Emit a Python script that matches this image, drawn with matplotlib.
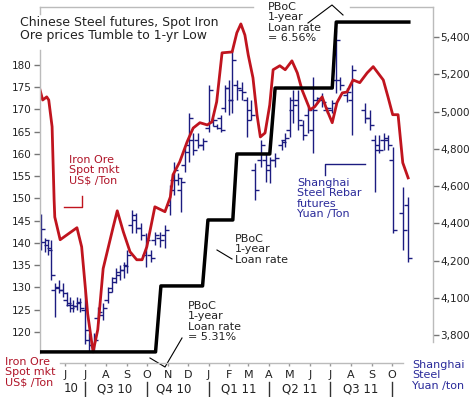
import pandas as pd
import matplotlib
matplotlib.use("Agg")
import matplotlib.pyplot as plt
from matplotlib.lines import Line2D
from matplotlib.transforms import blended_transform_factory

# iron ore spot price, US$/ton (left axis)
ore_dates = ["2010-04-25", "2010-04-29", "2010-05-05", "2010-05-08", "2010-05-13", "2010-05-16",
             "2010-05-17", "2010-05-25", "2010-06-06", "2010-06-19", "2010-06-26", "2010-07-05",
             "2010-07-13", "2010-07-20", "2010-07-28", "2010-08-12", "2010-08-18", "2010-08-27",
             "2010-09-06", "2010-09-16", "2010-09-24", "2010-10-01", "2010-10-13", "2010-10-28",
             "2010-11-05", "2010-11-09", "2010-11-19", "2010-11-30", "2010-12-09", "2010-12-19",
             "2010-12-30", "2011-01-06", "2011-01-13", "2011-01-21", "2011-02-05", "2011-02-12",
             "2011-02-18", "2011-02-24", "2011-03-01", "2011-03-08", "2011-03-14", "2011-03-19",
             "2011-03-26", "2011-04-02", "2011-04-07", "2011-04-17", "2011-04-25", "2011-05-05",
             "2011-05-13", "2011-05-20", "2011-06-01", "2011-06-08", "2011-06-19", "2011-06-26",
             "2011-07-04", "2011-07-11", "2011-07-19", "2011-07-26", "2011-08-04", "2011-08-14",
             "2011-08-25", "2011-09-03", "2011-09-18", "2011-09-25", "2011-10-02", "2011-10-10",
             "2011-10-17", "2011-10-25"]
ore_price = [174.4, 172.1, 172.8, 172.1, 166.1, 149.7,
             145.8, 140.7, 142.0, 143.4, 139.1, 124.0,
             115.5, 120.5, 134.2, 143.6, 147.2, 142.5,
             138.0, 136.2, 136.2, 139.1, 148.1, 147.0,
             150.3, 155.3, 158.2, 162.7, 165.8, 167.0,
             166.5, 167.2, 171.7, 182.7, 182.9, 187.2,
             189.2, 186.7, 182.2, 177.1, 168.8, 163.8,
             164.7, 171.0, 178.9, 179.8, 178.9, 180.9,
             178.2, 174.4, 169.9, 170.6, 172.8, 169.9,
             167.0, 171.5, 173.7, 173.9, 176.6, 176.0,
             178.2, 179.6, 176.6, 172.8, 168.8, 168.8,
             158.0, 154.6]

# Shanghai rebar futures, weekly bars, Yuan/ton (right axis)
rebar_dates = ["2010-04-27", "2010-05-02", "2010-05-07", "2010-05-11", "2010-05-17", "2010-05-23", "2010-05-29", "2010-06-04", "2010-06-08", "2010-06-13",
               "2010-06-19", "2010-06-24", "2010-07-01", "2010-07-07", "2010-07-14", "2010-07-20", "2010-07-28", "2010-08-04", "2010-08-10", "2010-08-16",
               "2010-08-22", "2010-08-28", "2010-09-02", "2010-09-09", "2010-09-15", "2010-09-22", "2010-09-30", "2010-10-07", "2010-10-13", "2010-10-21",
               "2010-10-28", "2010-11-05", "2010-11-10", "2010-11-16", "2010-11-21", "2010-11-27", "2010-12-03", "2010-12-09", "2010-12-16", "2010-12-24",
               "2011-01-02", "2011-01-08", "2011-01-14", "2011-01-20", "2011-01-26", "2011-01-31", "2011-02-05", "2011-02-12", "2011-02-20", "2011-02-27",
               "2011-03-05", "2011-03-11", "2011-03-20", "2011-03-27", "2011-04-02", "2011-04-10", "2011-04-20", "2011-04-25", "2011-05-02", "2011-05-07",
               "2011-05-14", "2011-05-21", "2011-05-29", "2011-06-05", "2011-06-11", "2011-06-19", "2011-06-26", "2011-07-04", "2011-07-10", "2011-07-16",
               "2011-07-26", "2011-08-02", "2011-08-22", "2011-08-29", "2011-09-06", "2011-09-12", "2011-09-19", "2011-09-25", "2011-10-03", "2011-10-17",
               "2011-10-25"]
rebar_high = [4450, 4321, 4310, 4310, 4079, 4095, 4079, 4031, 4004, 3988,
              4004, 3999, 4042, 3811, 3811, 3950, 3972, 4058, 4112, 4160,
              4176, 4192, 4256, 4471, 4455, 4401, 4348, 4256, 4353, 4353,
              4391, 4605, 4729, 4670, 4643, 4809, 4992, 4885, 4885, 4858,
              5142, 4965, 4933, 4981, 5142, 5169, 5330, 5169, 5158, 5078,
              5062, 4724, 4847, 4777, 4756, 4777, 4847, 4885, 5078, 5115,
              5115, 4954, 5024, 5185, 5078, 5099, 5024, 5062, 5438, 5185,
              5126, 5250, 5046, 5008, 4874, 4874, 4885, 4874, 4809, 4595,
              4541]
rebar_low = [4256, 4246, 4230, 4095, 3897, 4025, 4004, 3956, 3924, 3924,
             3934, 3924, 3752, 3709, 3720, 3864, 3880, 3972, 4031, 4079,
             4095, 4106, 4133, 4348, 4348, 4310, 4165, 4192, 4283, 4273,
             4267, 4444, 4552, 4605, 4460, 4675, 4729, 4767, 4804, 4793,
             4890, 4922, 4906, 4890, 4997, 4981, 4992, 5062, 5062, 4863,
             4954, 4525, 4702, 4622, 4616, 4702, 4793, 4809, 4863, 4938,
             4901, 4847, 4885, 4777, 5046, 5024, 4992, 4992, 5099, 5115,
             5051, 4874, 4938, 4901, 4568, 4777, 4793, 4793, 4348, 4256,
             4192]
rebar_open = [4407, 4299, 4283, 4267, 4042, 4058, 4042, 3988, 3961, 3961,
              3956, 3972, 3934, 3773, 3747, 3891, 3907, 3988, 4052, 4106,
              4122, 4149, 4176, 4391, 4417, 4375, 4230, 4230, 4310, 4321,
              4337, 4498, 4632, 4632, 4579, 4713, 4820, 4847, 4847, 4820,
              4911, 4944, 4922, 4965, 5019, 5126, 5062, 5142, 5115, 5062,
              5008, 4686, 4740, 4740, 4713, 4740, 4820, 4847, 4901, 5008,
              5062, 4928, 4981, 4901, 5062, 5062, 5008, 5008, 5169, 5169,
              5089, 5062, 5008, 4965, 4847, 4820, 4847, 4847, 4740, 4455,
              4498]
rebar_close = [4369, 4310, 4256, 4122, 4052, 4042, 4025, 3972, 3945, 3956,
               3977, 3945, 3827, 3747, 3773, 3924, 3945, 4031, 4085, 4138,
               4149, 4171, 4230, 4444, 4375, 4337, 4310, 4214, 4337, 4310,
               4364, 4579, 4686, 4643, 4622, 4783, 4965, 4793, 4820, 4842,
               5115, 4954, 4911, 4901, 5126, 5062, 5277, 5126, 5105, 4954,
               4981, 4579, 4820, 4686, 4740, 4750, 4836, 4858, 5062, 5035,
               4954, 4874, 5008, 5008, 5073, 5051, 5019, 5046, 5384, 5142,
               5105, 5223, 4965, 4928, 4793, 4793, 4858, 4820, 4364, 4364,
               4214]

# PBoC 1-year loan rate, % (hidden scale)
rate_dates = ["2010-04-25", "2010-10-14", "2010-10-22", "2010-12-23", "2010-12-31", "2011-02-06",
              "2011-02-12", "2011-04-02", "2011-04-10", "2011-07-04", "2011-07-10", "2011-10-26"]
rate_vals = [5.31, 5.31, 5.56, 5.56, 5.81, 5.81, 6.06, 6.06, 6.31, 6.31, 6.56, 6.56]

left_ticks = [120, 125, 130, 135, 140, 145, 150, 155, 160, 165, 170, 175, 180]
right_ticks = [5400, 5200, 5000, 4800, 4600, 4400, 4200, 4000, 3800]
right_labels = ["5,400", "5,200", "5,000", "4,800", "4,600", "4,400", "4,200", "4,100", "3,800"]
month_labels = ["J", "J", "A", "S", "O", "N", "D", "J", "F", "M", "A", "M", "J", "J", "A", "S", "O"]
quarter_labels = ["10", "Q3 10", "Q4 10", "Q1 11", "Q2 11", "Q3 11"]
quarter_mid = ["2010-06-10", "2010-08-14", "2010-11-10", "2011-02-15", "2011-05-16", "2011-08-16"]
quarter_starts = ["2010-07-01", "2010-10-01", "2011-01-01", "2011-04-01", "2011-07-01", "2011-10-01"]

RED = "#c0141e"
RED_TXT = "#b01428"
NAVY = "#1c1c80"
NAVY_TXT = "#2a2a9a"
GRID = "#bbbbbb"

W, H = 472, 397
fig = plt.figure(figsize=(W / 100, H / 100), dpi=100)
fig.patch.set_facecolor("white")
ax = fig.add_axes([40 / W, 1 - 363 / H, 393 / W, 356 / H])
ax_r = ax.twinx()
ax_p = ax.twinx()
ax_r.set_zorder(1)
ax.set_zorder(2)
ax_p.set_zorder(3)
for a in (ax, ax_r, ax_p):
    a.patch.set_visible(False)
    for s in a.spines.values():
        s.set_visible(False)

rb = pd.to_datetime(rebar_dates)
ax_r.vlines(rb, rebar_low, rebar_high, color=NAVY, lw=1)
ax_r.plot(rb, rebar_open, ls="none", marker=0, ms=3, mew=1, color=NAVY)
ax_r.plot(rb, rebar_close, ls="none", marker=1, ms=3, mew=1, color=NAVY)

ax.plot(pd.to_datetime(ore_dates), ore_price, color=RED, lw=2, solid_joinstyle="round")
ax_p.plot(pd.to_datetime(rate_dates), rate_vals, color="black", lw=2.5)

ax.set_xlim(pd.Timestamp("2010-04-25"), pd.Timestamp("2011-12-01"))
ax.set_ylim(113.0, 193.0)
ax_r.set_ylim(3650, 5561)
ax_p.set_ylim(5.268, 6.617)
ax_p.yaxis.set_visible(False)

ax.set_yticks(left_ticks)
ax.set_yticklabels([str(v) for v in left_ticks])
ax_r.set_yticks(right_ticks)
ax_r.set_yticklabels(right_labels)
ax.set_xticks(pd.date_range("2010-06-01", periods=len(month_labels), freq="MS"))
ax.set_xticklabels(month_labels)

ax.tick_params(axis="x", length=2.5, width=1, color="#999999", pad=2.5, labelsize=8, labelcolor="#222222")
ax.tick_params(axis="y", length=4, width=1, color="#777777", pad=2, labelsize=7.5, labelcolor="#222222")
ax_r.tick_params(axis="y", length=4, width=1, color="#777777", pad=1.5, labelsize=7.5, labelcolor="#222222")

# broken frame (gaps where the title boxes sit)
frame = [([0, 0], [0.028, 0.879]), ([0, 0], [0.980, 1]),
         ([0, 0.542], [1, 1]), ([0.789, 1], [1, 1]),
         ([1, 1], [0.059, 1]), ([0.051, 0.924], [0, 0])]
for xs, ys in frame:
    ax.add_line(Line2D(xs, ys, transform=ax.transAxes, color=GRID, lw=1, clip_on=False))

trans = blended_transform_factory(ax.transData, ax.transAxes)
for d, lab in zip(pd.to_datetime(quarter_mid), quarter_labels):
    ax.text(d, -0.073, lab, transform=trans, ha="center", va="center", fontsize=8.5, color="#222222")
for d in pd.to_datetime(quarter_starts):
    ax.add_line(Line2D([d, d], [-0.053, -0.093], transform=trans, color="#333333", lw=1, clip_on=False))


def fx(x):
    return x / W


def fy(y):
    return 1 - y / H


def label(x, y, s, color="#222222", size=8):
    fig.text(fx(x), fy(y), s, ha="left", va="top", fontsize=size, color=color, linespacing=1.05, zorder=10)


def pointer(pts, color="black", lw=0.8):
    fig.add_artist(Line2D([fx(p[0]) for p in pts], [fy(p[1]) for p in pts], color=color, lw=lw))


label(20, 16, "Chinese Steel futures, Spot Iron\nOre prices Tumble to 1-yr Low", size=9)
label(268, 2, "PBoC\n1-year\nLoan rate\n= 6.56%")
label(235, 234, "PBoC\n1-year\nLoan rate")
label(188, 301, "PBoC\n1-year\nLoan rate\n= 5.31%")
label(69, 155, "Iron Ore\nSpot mkt\nUS$ /Ton", color=RED_TXT)
label(297, 178, "Shanghai\nSteel Rebar\nfutures\nYuan /Ton", color=NAVY_TXT)
label(5, 357, "Iron Ore\nSpot mkt\nUS$ /Ton", color=RED_TXT)
label(412, 360, "Shanghai\nSteel\nYuan /ton", color=NAVY_TXT)

pointer([(308, 23), (332, 5), (343, 15)])
pointer([(217, 250), (232, 259)])
pointer([(150, 358), (165, 367), (182, 338)])
pointer([(64, 207), (82, 207), (82, 196)], color=RED, lw=1)
pointer([(325, 175), (325, 164), (365, 164)], color=NAVY, lw=1)

fig.savefig("out.png", dpi=100)
